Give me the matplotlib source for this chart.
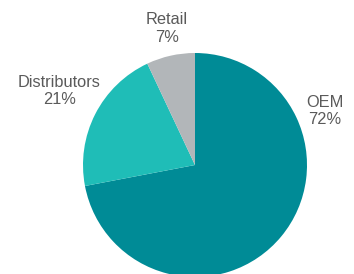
import matplotlib.pyplot as plt

segments = ['OEM', 'Distributors', 'Retail']
shares = [72, 21, 7]
colors = ['#008b96', '#1fbdb7', '#b2b6b9']

# label anchor points, in pie radius units
label_pos = {'OEM': (1.16, 0.48), 'Distributors': (-1.21, 0.66), 'Retail': (-0.25, 1.22)}

plt.rcParams['font.family'] = ['Liberation Sans', 'DejaVu Sans']

fig = plt.figure(figsize=(3.54, 2.74), dpi=100)
ax = fig.add_axes([0, 0, 1, 1])

ax.pie(shares, colors=colors, startangle=90, counterclock=False,
       radius=1.0, center=(0, 0), wedgeprops=dict(linewidth=0))

for name, val in zip(segments, shares):
    x, y = label_pos[name]
    ax.text(x, y, f'{name}\n{val}%', ha='center', va='center',
            fontsize=11.8, color='#5a5a5a', linespacing=1.2)

r_px = 112.0
ax.set_xlim(-195 / r_px, (354 - 195) / r_px)
ax.set_ylim(-(274 - 165) / r_px, 165 / r_px)
ax.set_aspect('equal')
ax.axis('off')

fig.savefig('out.png', dpi=100)
